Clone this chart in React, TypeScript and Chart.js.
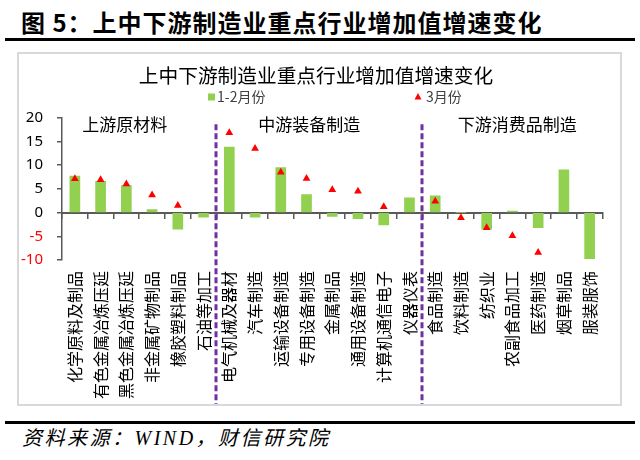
import React, { useEffect, useRef } from "react";
import { Chart, registerables } from "chart.js";

Chart.register(...registerables);

const categories = [
  "化学原料及制品", "有色金属冶炼压延", "黑色金属冶炼压延", "非金属矿物制品", "橡胶塑料制品", "石油等加工",
  "电气机械及器材", "汽车制造", "运输设备制造", "专用设备制造", "金属制品", "通用设备制造", "计算机通信电子", "仪器仪表",
  "食品制造", "饮料制造", "纺织业", "农副食品加工", "医药制造", "烟草制品", "服装服饰",
];
const growthJanFeb = [7.7, 6.6, 5.7, 0.6, -3.5, -1.0, 13.8, -1.0, 9.5, 3.8, -0.8, -1.3, -2.6, 3.1, 3.5, 0, -3.5, 0.3, -3.2, 9.0, -9.7];
const growthMar = [7.1, 6.9, 6.0, 3.7, 1.5, null, 16.8, 13.5, 8.5, 7.2, 4.8, 4.5, 1.2, null, 2.4, -1.1, -3.2, -4.9, -8.4, null, null];
const seriesNames = ["1-2月份", "3月份"];
const sectionNames = ["上游原材料", "中游装备制造", "下游消费品制造"];
const sectionStarts = [6, 14];
const yMin = -10;
const yMax = 20;
const yStep = 5;

const GREEN = "#92d050";
const RED = "#ff0000";
const FONT = '"Noto Sans CJK SC", "Noto Sans", sans-serif';

const sectionPlugin = {
  id: "sections",
  afterDraw(chart: any, _args: any, opts: any) {
    const { ctx, chartArea } = chart;
    const x = chart.scales.x;
    const step = x.getPixelForValue(1) - x.getPixelForValue(0);
    const pix = (u: number) => x.getPixelForValue(0) + u * step;
    ctx.save();
    ctx.strokeStyle = "#7030a0";
    ctx.lineWidth = 3;
    ctx.setLineDash([6, 3]);
    for (const s of sectionStarts) {
      const px = Math.round(pix(s - 0.5));
      ctx.beginPath();
      ctx.moveTo(px, chartArea.top + opts.dividerTop);
      ctx.lineTo(px, chart.height);
      ctx.stroke();
    }
    ctx.setLineDash([]);
    ctx.font = "17px " + FONT;
    ctx.fillStyle = "#000";
    ctx.textAlign = "center";
    ctx.textBaseline = "middle";
    sectionNames.forEach((n, i) => ctx.fillText(n, pix(opts.centers[i]), chartArea.top + opts.labelY));

    // legend
    const ly = opts.legendY;
    const [lx1, lx2] = opts.legendX;
    ctx.fillStyle = GREEN;
    ctx.fillRect(lx1, ly - 3.5, 7, 7);
    ctx.font = "14px " + FONT;
    ctx.textAlign = "left";
    ctx.fillStyle = "#404040";
    ctx.fillText(chart.data.datasets[0].label, lx1 + 9, ly);
    ctx.fillStyle = RED;
    ctx.beginPath();
    ctx.moveTo(lx2, ly - 4);
    ctx.lineTo(lx2 + 3.5, ly + 2.5);
    ctx.lineTo(lx2 - 3.5, ly + 2.5);
    ctx.closePath();
    ctx.fill();
    ctx.fillStyle = "#404040";
    ctx.fillText(chart.data.datasets[1].label, lx2 + 8, ly);
    ctx.restore();
  },
};

function ChartBox() {
  const ref = useRef<HTMLCanvasElement | null>(null);
  useEffect(() => {
    if (!ref.current) return;
    const chart = new Chart(ref.current, {
      type: "bar",
      data: {
        labels: categories,
        datasets: [
          {
            type: "bar",
            label: seriesNames[0],
            data: growthJanFeb,
            backgroundColor: GREEN,
            barThickness: 10,
            order: 2,
          } as any,
          {
            type: "line",
            label: seriesNames[1],
            data: growthMar,
            showLine: false,
            pointStyle: "triangle",
            pointRadius: 4.5,
            pointBackgroundColor: RED,
            pointBorderColor: RED,
            pointBorderWidth: 0,
            backgroundColor: RED,
            borderColor: RED,
            order: 1,
          } as any,
        ],
      },
      options: {
        animation: false,
        responsive: false,
        maintainAspectRatio: false,
        layout: { padding: { left: 0, right: 7, top: 0, bottom: 0 } },
        plugins: {
          legend: { display: false },
          tooltip: { enabled: false },
          title: {
            display: true,
            text: "上中下游制造业重点行业增加值增速变化",
            color: "#000",
            font: { size: 19.7, family: FONT, weight: "normal" },
            padding: { top: 10, bottom: 30 },
          },
          sections: {
            centers: [1.94, 9.11, 17.19],
            labelY: 6.5,
            dividerTop: 6.5,
            legendY: 43,
            legendX: [189, 399],
          },
        } as any,
        scales: {
          x: {
            type: "category",
            position: "bottom",
            grid: { display: false, drawTicks: false },
            border: { display: false },
            ticks: {
              autoSkip: false,
              maxRotation: 90,
              minRotation: 90,
              padding: 11,
              color: "#000",
              font: { size: 16, family: FONT },
            },
            afterFit: (s: any) => {
              s.height = 144;
            },
          },
          x2: {
            type: "category",
            position: { y: 0 },
            offset: true,
            grid: {
              offset: true,
              drawOnChartArea: false,
              drawTicks: true,
              tickLength: 5,
              color: "#595959",
              lineWidth: 1.5,
            },
            border: { display: true, color: "#595959", width: 2 },
            ticks: { display: false },
            afterFit: (s: any) => {
              s.height = 0;
            },
          } as any,
          y: {
            min: yMin,
            max: yMax,
            ticks: {
              stepSize: yStep,
              padding: 14,
              color: (c: any) => (c.tick && c.tick.value < 0 ? RED : "#000"),
              font: { size: 15, family: '"Noto Sans", sans-serif' },
            },
            grid: {
              drawOnChartArea: false,
              drawTicks: true,
              tickLength: 5,
              color: "#595959",
              lineWidth: 1.5,
            },
            border: { display: true, color: "#595959", width: 1.5 },
            afterFit: (s: any) => {
              s.width = 43;
            },
          },
        },
      },
      plugins: [sectionPlugin],
    });
    return () => chart.destroy();
  }, []);
  return <canvas ref={ref} width={601} height={350} style={{ display: "block", width: 601, height: 350 }} />;
}

export default function App() {
  return (
    <div style={{ position: "absolute", left: 0, top: 0, width: 640, height: 460, background: "#fff", overflow: "hidden" }}>
      <div
        style={{
          position: "absolute",
          left: 21,
          top: 5,
          fontFamily: FONT,
          fontWeight: 700,
          fontSize: 24,
          letterSpacing: 1,
          color: "#000",
          whiteSpace: "nowrap",
          lineHeight: "34px",
        }}
      >
        图 5：上中下游制造业重点行业增加值增速变化
      </div>
      <div style={{ position: "absolute", left: 5, top: 38, width: 630, height: 3, background: "#000" }} />
      <div
        style={{
          position: "absolute",
          left: 17,
          top: 52,
          width: 601,
          height: 350,
          border: "2px solid #d9d9d9",
        }}
      >
        <ChartBox />
      </div>
      <div style={{ position: "absolute", left: 5, top: 421, width: 630, height: 3, background: "#000" }} />
      <div
        style={{
          position: "absolute",
          left: 22,
          top: 425,
          fontFamily: '"Liberation Serif", "Noto Sans CJK SC", serif',
          fontStyle: "italic",
          fontSize: 20,
          letterSpacing: 2.5,
          color: "#000",
          whiteSpace: "nowrap",
          lineHeight: "26px",
        }}
      >
        资料来源：WIND，财信研究院
      </div>
    </div>
  );
}
